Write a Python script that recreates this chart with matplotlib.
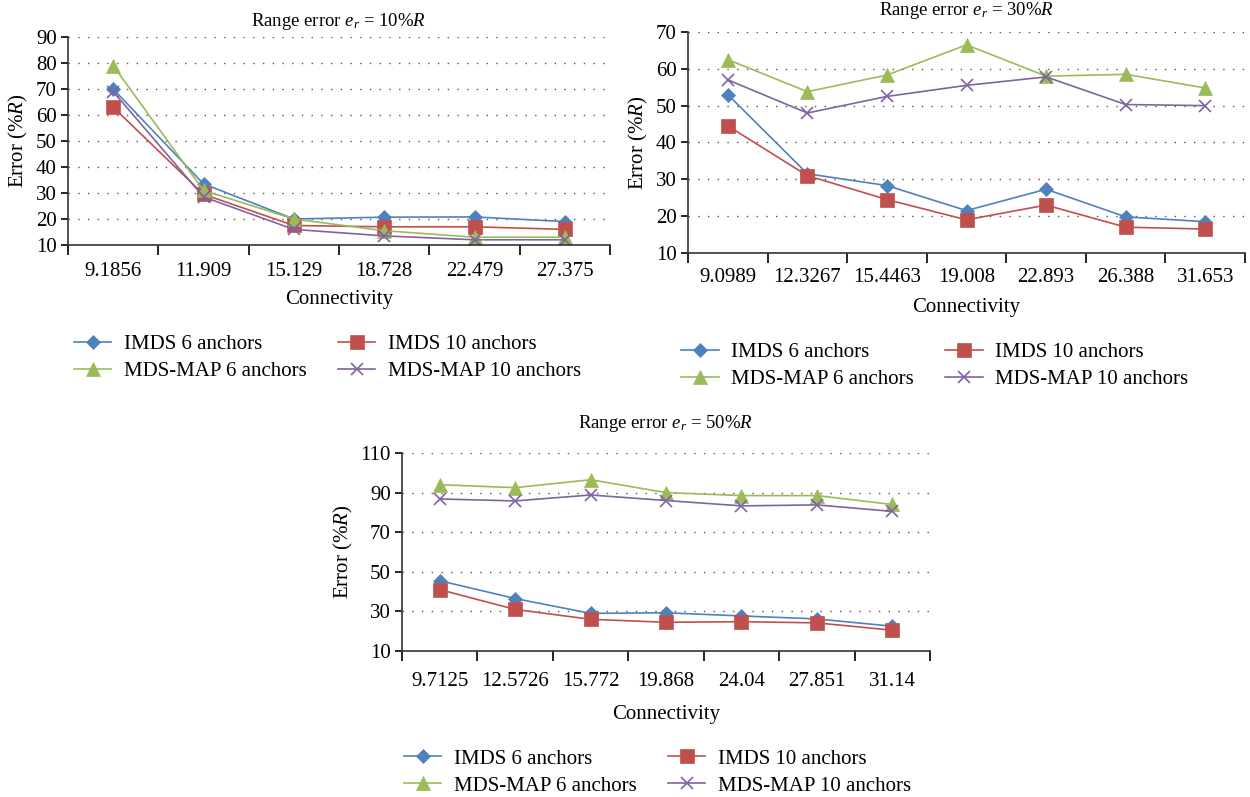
import numpy as np
import matplotlib.pyplot as plt

plt.rcParams['font.family'] = ['Liberation Serif', 'DejaVu Serif']
plt.rcParams['mathtext.fontset'] = 'custom'
plt.rcParams['mathtext.rm'] = 'Liberation Serif'
plt.rcParams['mathtext.it'] = 'Liberation Serif:italic'

# ---- data ----
conn_10 = ['9.1856', '11.909', '15.129', '18.728', '22.479', '27.375']
imds6_10 = [70, 33.5, 20, 20.7, 20.8, 19]
imds10_10 = [63, 29.5, 17.5, 17, 17, 16]
mds6_10 = [79, 31, 20, 15.5, 13, 13]
mds10_10 = [69, 28.5, 16, 13.5, 12, 12]

conn_30 = ['9.0989', '12.3267', '15.4463', '19.008', '22.893', '26.388', '31.653']
imds6_30 = [53, 31.5, 28.3, 21.5, 27.3, 19.8, 18.5]
imds10_30 = [44.5, 31, 24.5, 19, 23, 17, 16.5]
mds6_30 = [62.5, 53.8, 58.3, 66.5, 58, 58.5, 54.8]
mds10_30 = [57, 48, 52.5, 55.5, 57.8, 50.3, 50]

conn_50 = ['9.7125', '12.5726', '15.772', '19.868', '24.04', '27.851', '31.14']
imds6_50 = [45.5, 36.5, 29, 29.3, 27.7, 26.2, 22.5]
imds10_50 = [41, 31, 26, 24.5, 24.8, 24.2, 20.5]
mds6_50 = [94, 92.5, 96.5, 90, 88.5, 88.5, 84]
mds10_50 = [86.8, 85.8, 88.8, 86, 83.3, 83.8, 80.5]

series_names = ['IMDS 6 anchors', 'IMDS 10 anchors', 'MDS-MAP 6 anchors', 'MDS-MAP 10 anchors']
colors = ['#4F81BD', '#C0504D', '#9BBB59', '#8064A2']
markers = ['D', 's', '^', 'x']
msizes = [7.5, 10, 10, 9]


def draw_panel(fig, rect, cats, series, yticks, title, leg_center,
               title_pad, tick_pad, xlab_pad):
    ax = fig.add_axes(rect)
    x = np.arange(len(cats))
    handles = []
    for vals, name, c, m, ms in zip(series, series_names, colors, markers, msizes):
        h, = ax.plot(x, vals, color=c, marker=m, markersize=ms, lw=1.2,
                     markeredgewidth=1.2 if m == 'x' else 0.5,
                     markeredgecolor=c, label=name)
        handles.append(h)
    ax.set_xlim(-0.5, len(cats) - 0.5)
    ax.set_ylim(yticks[0], yticks[-1])
    ax.set_yticks(yticks)
    ax.set_xticks(x)
    ax.set_xticklabels(cats)
    ax.set_xticks(np.arange(len(cats) + 1) - 0.5, minor=True)
    ax.tick_params(axis='x', which='major', length=0, pad=tick_pad, labelsize=15)
    ax.tick_params(axis='x', which='minor', length=7, width=1.2, direction='out')
    ax.tick_params(axis='y', length=5, width=1.2, labelsize=15, pad=3)
    for s in ['top', 'right']:
        ax.spines[s].set_visible(False)
    for s in ['left', 'bottom']:
        ax.spines[s].set_linewidth(1.2)
        ax.spines[s].set_color('#333333')
    for yv in yticks[1:]:
        ax.axhline(yv, color='#555555', lw=1.0, ls=(0, (1, 6)), zorder=0)
    ax.set_ylabel('Error (%$R$)', fontsize=15, labelpad=4)
    ax.set_xlabel('Connectivity', fontsize=15, labelpad=xlab_pad)
    ax.set_title(title, fontsize=13.5, pad=title_pad)
    # row-wise order like the original legend
    order = [0, 2, 1, 3]
    fig.legend(handles=[handles[i] for i in order], loc='center',
               bbox_to_anchor=leg_center, ncol=2, frameon=False, fontsize=15,
               handlelength=1.8, columnspacing=1.5, handletextpad=0.6,
               labelspacing=0.35)
    return ax


fig = plt.figure(figsize=(12.5, 7.97), dpi=100)

draw_panel(fig, [0.0544, 0.6926, 0.4336, 0.261], conn_10,
           [imds6_10, imds10_10, mds6_10, mds10_10], list(range(10, 91, 10)),
           r'Range error $e_r$ = 10%$R$', (0.262, 0.5508), 8, 12, 7)
draw_panel(fig, [0.5504, 0.6826, 0.4456, 0.2773], conn_30,
           [imds6_30, imds10_30, mds6_30, mds10_30], list(range(10, 71, 10)),
           r'Range error $e_r$ = 30%$R$', (0.748, 0.5407), 12, 11, 8)
draw_panel(fig, [0.3216, 0.1832, 0.4224, 0.2484], conn_50,
           [imds6_50, imds10_50, mds6_50, mds10_50], list(range(10, 111, 20)),
           r'Range error $e_r$ = 50%$R$', (0.526, 0.031), 18, 15, 10)

fig.savefig('out.png', dpi=100)
